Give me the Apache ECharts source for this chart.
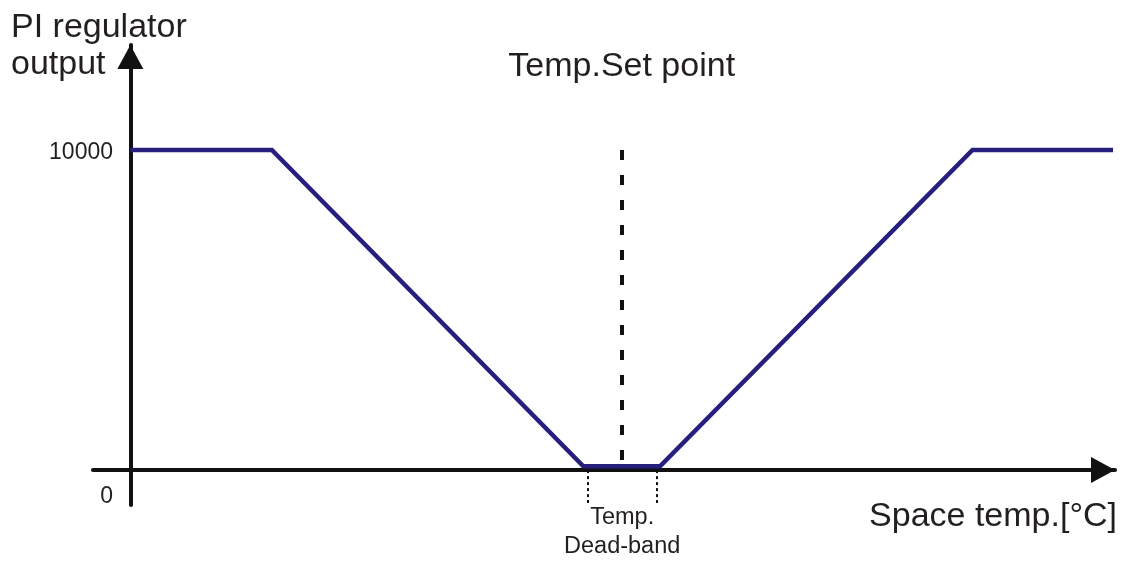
<!DOCTYPE html>
<html>
<head>
<meta charset="utf-8">
<script src="https://cdn.jsdelivr.net/npm/echarts@6/dist/echarts.min.js"></script>
<style>
  html, body { margin: 0; padding: 0; background: #fff; }
  #chart { width: 1124px; height: 563px; }
</style>
</head>
<body>
<div id="chart"></div>
<script>
// regulator curve: x is a relative temperature position (0..100), y the output
const curveX = [0, 14.4, 46.1, 53.9, 85.7, 100];
const curveY = [10000, 10000, 120, 120, 10000, 10000];
const setPoint = 50;
const deadBand = [46.5, 53.6];
const yLabels = [0, 10000];

const ink = '#231f20';
const navy = '#261f7e';

const chartDom = document.getElementById('chart');
const myChart = echarts.init(chartDom);

const arrowLine = {
  show: true,
  onZero: true,
  symbol: ['none', 'triangle'],
  symbolSize: [26, 24],
  symbolOffset: [0, -12],
  lineStyle: { color: '#111', width: 4 }
};

const option = {
  animation: false,
  textStyle: { fontFamily: 'Liberation Sans, Arial, sans-serif' },
  title: {
    text: 'PI regulator\noutput',
    left: 11,
    top: 9,
    padding: 0,
    textStyle: { fontSize: 34, fontWeight: 'normal', color: ink, lineHeight: 37 }
  },
  grid: { left: 93, right: 9, top: 45, bottom: 58 },
  xAxis: {
    type: 'value',
    min: -3.8,
    max: 100.2,
    axisLine: arrowLine,
    axisTick: { show: false },
    axisLabel: { show: false },
    splitLine: { show: false },
    name: 'Space temp.[°C]',
    nameLocation: 'end',
    nameGap: 2,
    nameTextStyle: {
      fontSize: 34, color: ink, align: 'right', verticalAlign: 'top',
      padding: [30, 0, 0, 0]
    }
  },
  yAxis: {
    type: 'value',
    min: -1090,
    max: 13280,
    axisLine: arrowLine,
    axisTick: { show: false },
    splitLine: { show: false },
    axisLabel: {
      customValues: yLabels,
      // labels sit at the grid edge, the axis itself is drawn at x = 0
      margin: -20,
      color: ink,
      fontSize: 23,
      formatter: v => (v === 0 ? '{z|0}' : '{n|' + v + '}'),
      rich: {
        n: { fontSize: 23, color: ink, padding: [6, 0, 0, 0] },
        z: { fontSize: 23, color: ink, padding: [54, 0, 0, 0] }
      }
    }
  },
  series: [
    {
      type: 'line',
      data: curveX.map((x, i) => [x, curveY[i]]),
      symbol: 'none',
      clip: false,
      lineStyle: { color: navy, width: 4.5, join: 'miter' },
      markLine: {
        silent: true,
        symbol: ['none', 'none'],
        data: [
          [
            { coord: [setPoint, 10000], lineStyle: { color: '#111', width: 4, type: [10, 15] },
              label: { show: true, position: 'start', formatter: 'Temp.Set point', distance: 66, fontSize: 34, color: ink } },
            { coord: [setPoint, 300] }
          ],
          [
            { coord: [deadBand[0], 0], lineStyle: { color: '#111', width: 2, type: [3, 3] }, label: { show: false } },
            { coord: [deadBand[0], -1030] }
          ],
          [
            { coord: [deadBand[1], 0], lineStyle: { color: '#111', width: 2, type: [3, 3] }, label: { show: false } },
            { coord: [deadBand[1], -1030] }
          ]
        ]
      },
      markArea: {
        silent: true,
        itemStyle: { color: 'rgba(0,0,0,0)' },
        label: {
          show: true,
          position: 'bottom',
          distance: 0,
          formatter: 'Temp.\nDead-band',
          fontSize: 23.5,
          lineHeight: 29,
          color: ink
        },
        data: [[{ coord: [deadBand[0], 0] }, { coord: [deadBand[1], -1030] }]]
      }
    }
  ]
};

myChart.setOption(option);
window.addEventListener('resize', () => myChart.resize());
</script>
</body>
</html>
